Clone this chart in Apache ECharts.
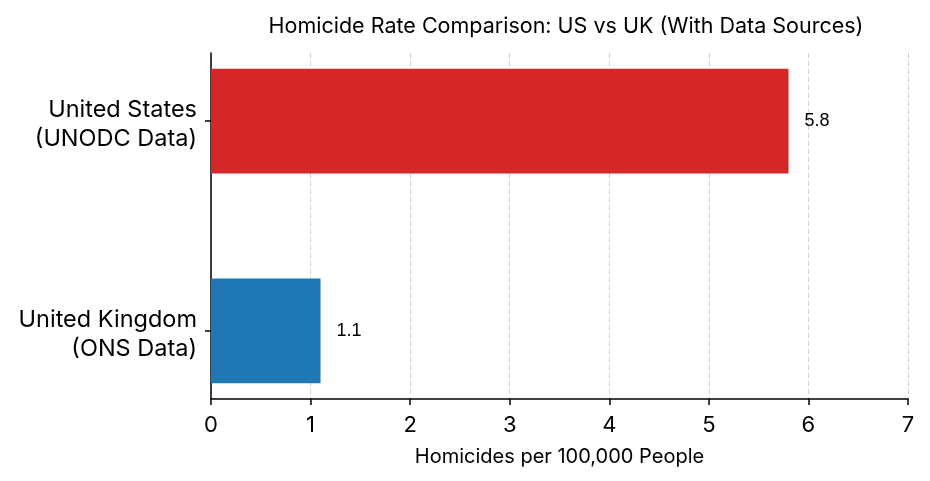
<!DOCTYPE html>
<html>
<head>
<meta charset="utf-8">
<script src="https://cdn.jsdelivr.net/npm/echarts@6/dist/echarts.min.js"></script>
<style>
html,body{margin:0;padding:0;background:#fff;}
#chart{width:930px;height:481px;}
</style>
</head>
<body>
<div id="chart"></div>
<script>
const categories = ["United States\n(UNODC Data)", "United Kingdom\n(ONS Data)"];
const rates = [5.8, 1.1];
const barColors = ["#d62728", "#1f77b4"];
const xTicks = [0, 1, 2, 3, 4, 5, 6, 7];

const FONT = "Inter, 'Open Sans', sans-serif";
const chart = echarts.init(document.getElementById('chart'));
const data = rates.map((v, i) => [v, i]);
const catStyle = {fontFamily: FONT, fontSize: 23.5, color: '#000', align: 'right'};

chart.setOption({
  animation: false,
  backgroundColor: '#fff',
  title: {
    text: 'Homicide Rate Comparison: US vs UK (With Data Sources)',
    left: 561, top: 11, textAlign: 'center',
    textStyle: {fontFamily: FONT, fontSize: 21.5, fontWeight: 'normal', color: '#000'}
  },
  grid: {left: 211, right: 22, top: 53, bottom: 82},
  xAxis: {
    type: 'value', min: xTicks[0], max: xTicks[xTicks.length - 1], interval: 1,
    name: 'Homicides per 100,000 People', nameLocation: 'middle', nameGap: 48,
    nameTextStyle: {fontFamily: FONT, fontSize: 20, color: '#000'},
    axisLine: {show: true, onZero: false, lineStyle: {color: '#000', width: 1.5}},
    axisTick: {show: true, length: 6, lineStyle: {color: '#000', width: 1.5}},
    axisLabel: {fontFamily: FONT, fontSize: 22, color: '#000', margin: 15,
      formatter: v => String(v)},
    splitLine: {show: true, lineStyle: {color: '#d0d0d0', type: [5, 3], width: 1}}
  },
  yAxis: {
    type: 'value', inverse: true, min: -0.325, max: 1.325,
    axisLine: {show: true, onZero: false, lineStyle: {color: '#000', width: 1.5}},
    axisTick: {show: true, length: 6, customValues: [0, 1], lineStyle: {color: '#000', width: 1.5}},
    axisLabel: {show: true, customValues: [0, 1], fontFamily: FONT, fontSize: 23.5, color: '#000',
      align: 'right', margin: 14,
      formatter: v => {
        const parts = categories[Math.round(v)].split('\n');
        return '{a|' + parts[0] + '}\n{b|' + parts[1] + '}';
      },
      rich: {
        a: Object.assign({lineHeight: 36}, catStyle),
        b: Object.assign({lineHeight: 22}, catStyle)
      }},
    splitLine: {show: false}
  },
  series: [{
    type: 'custom',
    data: data,
    encode: {x: 0, y: 1},
    renderItem: function (params, api) {
      const v = api.value(0), c = api.value(1);
      const p0 = api.coord([0, c - 0.25]);
      const p1 = api.coord([v, c + 0.25]);
      const lp = api.coord([v + 0.16, c]);
      return {
        type: 'group',
        children: [
          {type: 'rect', shape: {x: p0[0], y: Math.min(p0[1], p1[1]), width: p1[0] - p0[0], height: Math.abs(p1[1] - p0[1])},
            style: {fill: barColors[params.dataIndex]}},
          {type: 'text', style: {text: String(rates[params.dataIndex]), x: lp[0], y: lp[1],
            verticalAlign: 'middle', align: 'left', fill: '#000', fontSize: 18, fontFamily: "'Liberation Sans', Arial, sans-serif"}}
        ]
      };
    }
  }]
});
</script>
</body>
</html>
